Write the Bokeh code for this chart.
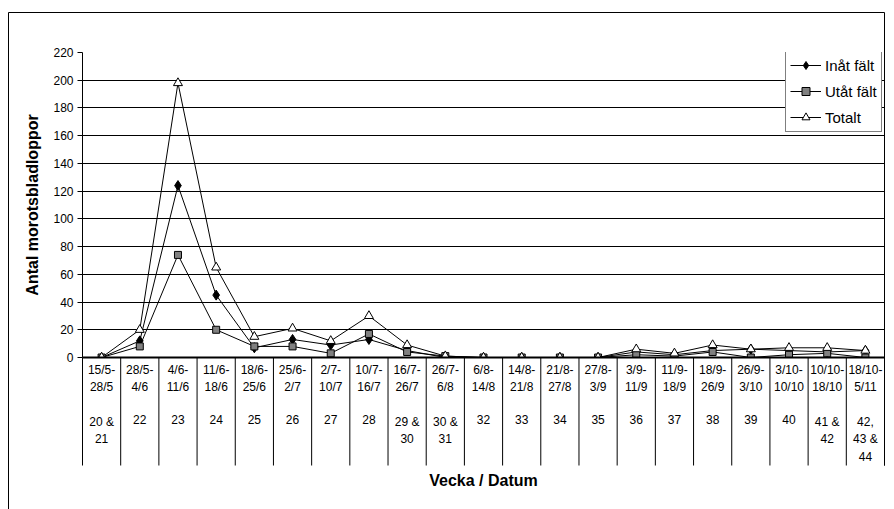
from bokeh.plotting import figure
from bokeh.models import FactorRange, Range1d, FixedTicker, Legend, LegendItem
from bokeh.core.properties import value
from bokeh.embed import file_html
from bokeh.resources import INLINE

# ---------------- data ----------------
dates = ["15/5-28/5", "28/5-4/6", "4/6-11/6", "11/6-18/6", "18/6-25/6", "25/6-2/7",
         "2/7-10/7", "10/7-16/7", "16/7-26/7", "26/7-6/8", "6/8-14/8", "14/8-21/8",
         "21/8-27/8", "27/8-3/9", "3/9-11/9", "11/9-18/9", "18/9-26/9", "26/9-3/10",
         "3/10-10/10", "10/10-18/10", "18/10-5/11"]
weeks = ["20 &\n21", "22", "23", "24", "25", "26", "27", "28", "29 &\n30", "30 &\n31",
         "32", "33", "34", "35", "36", "37", "38", "39", "40", "41 &\n42", "42,\n43 &\n44"]
inat = [0, 12, 124, 45, 7, 13, 9, 13, 5, 0, 0, 0, 0, 0, 4, 2, 5, 6, 5, 4, 5]
utat = [0, 8, 74, 20, 8, 8, 3, 17, 4, 1, 0, 0, 0, 0, 2, 1, 4, 0, 2, 3, 0]
totalt = [0, 20, 198, 65, 15, 21, 12, 30, 9, 1, 0, 0, 0, 0, 6, 3, 9, 6, 7, 7, 5]
yticks = [0, 20, 40, 60, 80, 100, 120, 140, 160, 180, 200, 220]
series_names = ["Inåt fält", "Utåt fält", "Totalt"]

date_labels = [d.replace("-", "-\n", 1) for d in dates]

# ---------------- geometry (pixels) ----------------
W, H = 894, 509
FL, FR, FT, FB = 82, 884, 52, 357
YMAX = 220
N = len(dates)
ppu = (FB - FT) / YMAX
cw = (FR - FL) / N

def ypx(py):
    return (FB - py) / ppu

def xpx(px):
    return (px - FL) / cw

FONT = "Liberation Sans"

p = figure(width=W, height=H, output_backend="svg", toolbar_location=None,
           x_range=FactorRange(factors=dates, range_padding=0, factor_padding=0),
           y_range=Range1d(0, YMAX),
           min_border_left=FL, min_border_right=W - FR,
           min_border_top=FT, min_border_bottom=H - FB)
p.outline_line_color = None
p.background_fill_color = "white"
p.border_fill_color = "white"

# y axis
ya = p.yaxis[0]
ya.ticker = FixedTicker(ticks=yticks)
ya.axis_label = "Antal morotsbladloppor"
ya.axis_label_text_font = FONT
ya.axis_label_text_font_style = "bold"
ya.axis_label_text_font_size = "16px"
ya.axis_label_text_color = "black"
ya.axis_label_standoff = 9
ya.major_label_text_font = FONT
ya.major_label_text_font_size = "12px"
ya.major_label_text_color = "black"
ya.major_label_standoff = 4
ya.major_tick_out = 5
ya.major_tick_in = 0
ya.minor_tick_line_color = None
ya.axis_line_color = "black"
ya.major_tick_line_color = "black"

p.ygrid.ticker = FixedTicker(ticks=yticks)
p.ygrid.grid_line_color = "black"
p.ygrid.grid_line_width = 1
p.xgrid.grid_line_color = None

# x axis: title only (the category table is drawn below)
xa = p.xaxis[0]
xa.ticker = FixedTicker(ticks=[])
xa.axis_label = "Vecka / Datum"
xa.axis_label_text_font = FONT
xa.axis_label_text_font_style = "bold"
xa.axis_label_text_font_size = "16px"
xa.axis_label_text_color = "black"
xa.major_tick_line_color = None
xa.minor_tick_line_color = None
xa.axis_line_color = None
xa.axis_label_standoff = 114

# category table below the axis
bx = list(range(N + 1))
p.segment(x0=bx, y0=[0] * (N + 1), x1=bx, y1=[ypx(465)] * (N + 1),
          line_color="black", line_width=1, level="overlay")
p.segment(x0=[0], y0=[0], x1=[N], y1=[0], line_color="black", line_width=2, level="overlay")
p.text(x=dates, y=[ypx(362)] * N, text=date_labels, text_align="center", text_baseline="top",
       text_font=value(FONT), text_font_size="12px", text_line_height=1.28,
       text_color="black", level="overlay")
p.text(x=dates, y=[ypx(414)] * N, text=weeks, text_align="center", text_baseline="top",
       text_font=value(FONT), text_font_size="12px", text_line_height=1.28,
       text_color="black", level="overlay")

# outer chart border
bl, bt, bb = xpx(8), ypx(12), ypx(515)
p.segment(x0=[bl, bl, N], y0=[bt, bt, bt], x1=[N, bl, N], y1=[bt, bb, ypx(465)],
          line_color="black", line_width=1, level="overlay")

# series
r1l = p.line(dates, inat, line_color="black", line_width=1)
r2l = p.line(dates, utat, line_color="black", line_width=1)
r3l = p.line(dates, totalt, line_color="black", line_width=1)
r1m = p.scatter(dates, inat, marker="diamond", size=10, fill_color="black", line_color="black")
r2m = p.scatter(dates, utat, marker="square", size=7, fill_color="#808080", line_color="black")
r3m = p.scatter(dates, totalt, marker="triangle", size=9, fill_color="white", line_color="black")

legend = Legend(items=[LegendItem(label=series_names[0], renderers=[r1l, r1m]),
                       LegendItem(label=series_names[1], renderers=[r2l, r2m]),
                       LegendItem(label=series_names[2], renderers=[r3l, r3m])],
                location=(785 - FL, FB - 132), orientation="vertical",
                label_text_font=FONT, label_text_font_size="15px", label_text_color="black",
                glyph_width=31, glyph_height=20, label_height=20, label_standoff=4,
                spacing=6, padding=4, margin=0,
                border_line_color="black", border_line_width=1,
                background_fill_color="white", background_fill_alpha=1.0)
p.add_layout(legend)

open("out.html", "w").write(file_html(p, INLINE))
